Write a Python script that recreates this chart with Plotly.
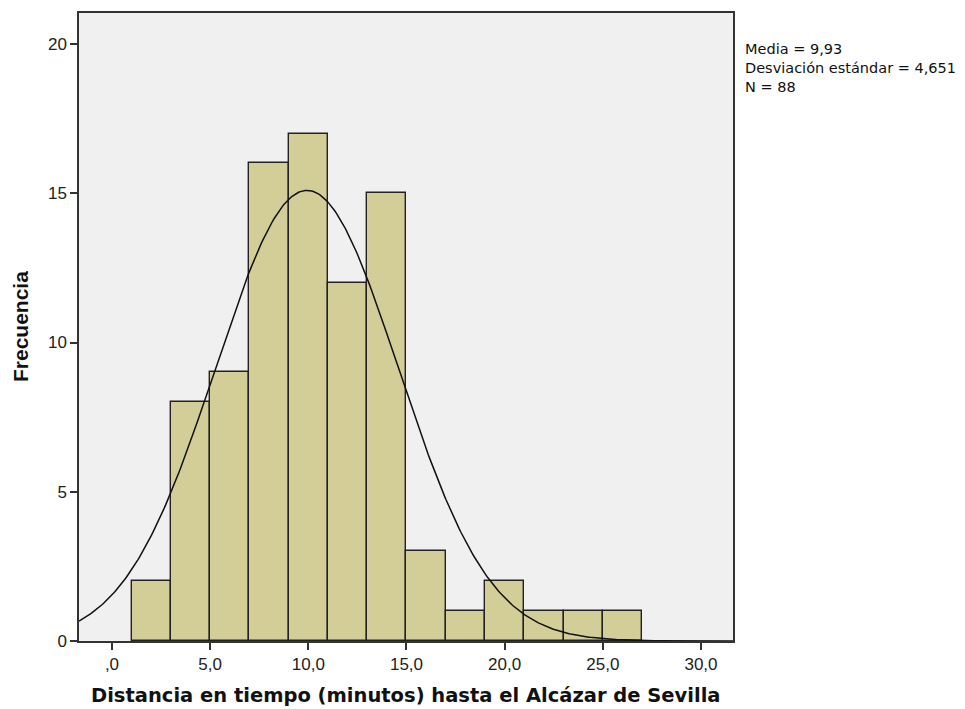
import numpy as np
import plotly.graph_objects as go

bin_starts = [1, 3, 5, 7, 9, 11, 13, 15, 17, 19, 21, 23, 25]
counts = [2, 8, 9, 16, 17, 12, 15, 3, 1, 2, 1, 1, 1]
bin_width = 2
mean = 9.93
sd = 4.651
n = 88
x_ticks = [0, 5, 10, 15, 20, 25, 30]
x_tick_labels = [",0", "5,0", "10,0", "15,0", "20,0", "25,0", "30,0"]
y_ticks = [0, 5, 10, 15, 20]
stats_lines = [
    "Media = " + str(mean).replace(".", ","),
    "Desviación estándar = " + str(sd).replace(".", ","),
    "N = " + str(n),
]

x_range = [-1.68, 31.63]
y_range = [0, 21.04]

W, H = 965, 709
ML, MR, MT, MB = 79, 232, 13, 68
plot_h = H - MT - MB
plot_w = W - ML - MR

centers = [s + bin_width / 2 for s in bin_starts]
xs = np.linspace(x_range[0], x_range[1], 400)
ys = n * bin_width * np.exp(-0.5 * ((xs - mean) / sd) ** 2) / (sd * np.sqrt(2 * np.pi))

fig = go.Figure()
fig.add_trace(go.Bar(
    x=centers, y=counts, width=bin_width,
    marker=dict(color="#D3CE98", line=dict(color="#222222", width=1.4)),
    hoverinfo="skip",
))
fig.add_trace(go.Scatter(
    x=xs, y=ys, mode="lines", line=dict(color="#111111", width=1.5),
    hoverinfo="skip",
))

sans = "Liberation Sans, Arial, sans-serif"
wide = "DejaVu Sans, Verdana, sans-serif"

annotations = [dict(
    xref="paper", yref="paper", x=1, y=1 - (68.5 - MT) / plot_h,
    xshift=10, xanchor="left", yanchor="middle", align="left", showarrow=False,
    text="<br>".join(stats_lines), font=dict(size=14.5, color="#111111", family=wide),
)]
annotations.append(dict(
    xref="paper", yref="paper", x=0.5, y=-(695 - (H - MB)) / plot_h,
    xanchor="center", yanchor="middle", showarrow=False,
    text="<b>Distancia en tiempo (minutos) hasta el Alcázar de Sevilla</b>",
    font=dict(size=19.5, color="#111111", family=wide),
))
annotations.append(dict(
    xref="paper", yref="paper", x=-(ML - 20) / plot_w, y=0.5,
    xanchor="center", yanchor="middle", showarrow=False, textangle=-90,
    text="<b>Frecuencia</b>",
    font=dict(size=21, color="#111111", family=sans),
))

fig.update_layout(
    width=W, height=H,
    margin=dict(l=ML, r=MR, t=MT, b=MB),
    paper_bgcolor="white",
    plot_bgcolor="#F0F0F0",
    showlegend=False,
    bargap=0,
    font=dict(family=sans, color="#222222", size=17),
    xaxis=dict(
        range=x_range, tickvals=x_ticks, ticktext=x_tick_labels,
        showgrid=False, zeroline=False,
        showline=True, linecolor="#333333", linewidth=1.5, mirror=True,
        ticks="outside", ticklen=7, tickwidth=1.5, tickcolor="#333333",
        tickfont=dict(size=17, color="#222222", family=sans),
    ),
    yaxis=dict(
        range=y_range, tickvals=y_ticks,
        showgrid=False, zeroline=False,
        showline=True, linecolor="#333333", linewidth=1.5, mirror=True,
        ticks="outside", ticklen=7, tickwidth=1.5, tickcolor="#333333",
        tickfont=dict(size=17, color="#222222", family=sans),
    ),
    annotations=annotations,
)

fig.write_html("out.html")
